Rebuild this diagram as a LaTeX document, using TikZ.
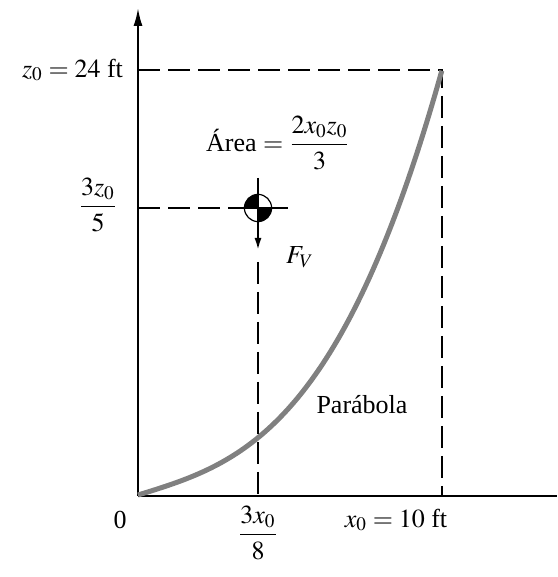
\documentclass[tikz,border=0pt]{standalone}
\usepackage{amsmath}
\usepackage{mathptmx}
\usepackage{fontspec}
\setmainfont{Liberation Serif}
\usetikzlibrary{arrows.meta,positioning}

\begin{document}
\begin{tikzpicture}[x=0.5pt,y=0.5pt,
    every node/.style={font=\fontsize{13}{15}\selectfont},
    guide/.style={line width=1pt, dash pattern=on 11pt off 4pt},
    axis/.style={line width=1pt}]
    \useasboundingbox (0,0) rectangle (557,577);

    % Axes
    \coordinate (O) at (138,81);
    \coordinate (ztop) at (138,569);
    \coordinate (xend) at (557,81);
    \draw[axis, -{Latex[length=9pt,width=4.5pt]}] (O) -- (ztop);
    \draw[axis] (O) -- (xend);

    % Limits z0 and x0
    \coordinate (zmark) at (138,507);
    \coordinate (P) at (442,507);
    \coordinate (xmark) at (442,81);
    \draw[guide] (zmark) -- (P) -- (xmark);

    % Parabola
    \draw[gray, line width=2.5pt, domain=0:1, samples=80]
        plot ({138+304*\x}, {82+425*(0.22*\x+0.78*\x*\x*\x)});

    % Centroid
    \coordinate (C) at (258,369);
    \coordinate (zc) at (138,369);
    \coordinate (xc) at (258,81);
    \draw[guide] (zc) -- ++(90,0);
    \draw[guide] (C) ++(0,-54) -- (xc);
    \draw[line width=0.6pt] (C) circle[radius=6.8pt];
    \fill (C) -- ++(-6.8pt,0) arc[start angle=180, end angle=90, radius=6.8pt] -- cycle;
    \fill (C) -- ++(6.8pt,0) arc[start angle=0, end angle=-90, radius=6.8pt] -- cycle;
    \draw[line width=1pt] (C) ++(-30,0) -- ++(60,0);
    \draw[line width=1pt, -{Latex[length=6pt,width=3.5pt]}] (C) ++(0,30) -- ++(0,-72);

    % Labels
    \node[anchor=east] (zlabel) at (130,507) {$z_0 = 24$ ft};
    \node (zclabel) at (98,372) {$\dfrac{3z_0}{5}$};
    \node (area) at (278,434) {Área $= \dfrac{2x_0z_0}{3}$};
    \node (fv) at (300,320) {$F_V$};
    \node (parab) at (362,172) {Parábola};
    \node (zero) at (120,57) {0};
    \node (xclabel) at (258,44) {$\dfrac{3x_0}{8}$};
    \node (xlabel) at (396,57) {$x_0 = 10$ ft};
\end{tikzpicture}
\end{document}
